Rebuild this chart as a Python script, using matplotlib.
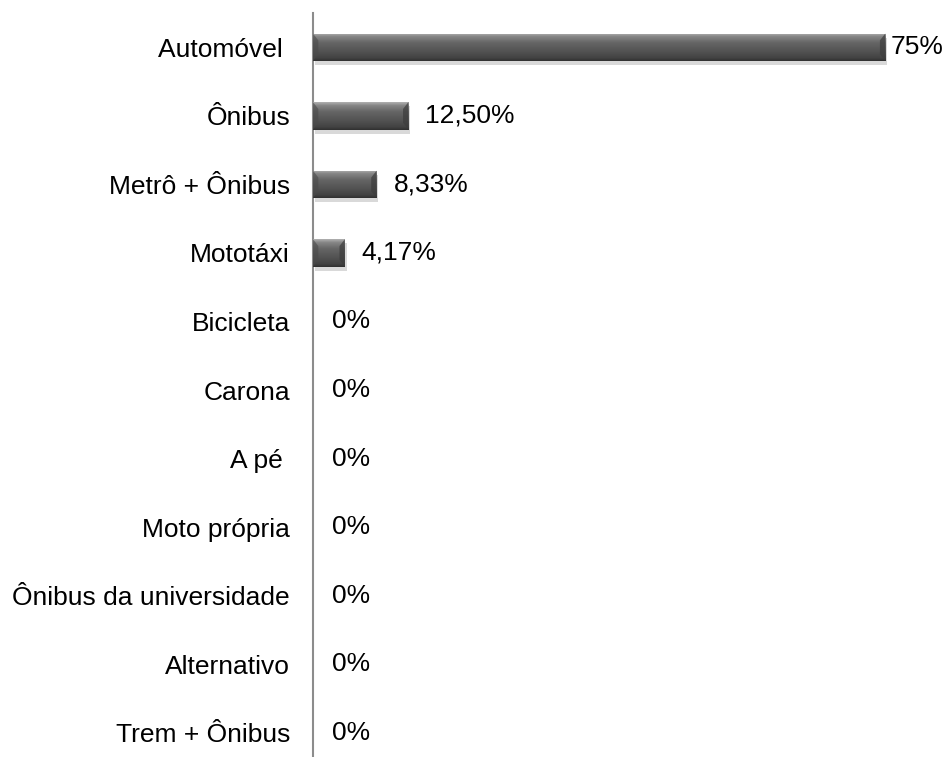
import numpy as np
import matplotlib
matplotlib.use('Agg')
import matplotlib.pyplot as plt
from matplotlib.colors import LinearSegmentedColormap

categories = ['Automóvel ', 'Ônibus', 'Metrô + Ônibus', 'Mototáxi', 'Bicicleta',
              'Carona', 'A pé ', 'Moto própria', 'Ônibus da universidade',
              'Alternativo', 'Trem + Ônibus']
values = [75, 12.5, 8.33, 4.17, 0, 0, 0, 0, 0, 0, 0]
value_labels = ['75%', '12,50%', '8,33%', '4,17%', '0%', '0%', '0%', '0%', '0%', '0%', '0%']

plt.rcParams['font.family'] = ['Liberation Sans', 'DejaVu Sans']

fig = plt.figure(figsize=(9.49, 7.57), dpi=100)
# axes runs a little below the bottom edge, like the original
ax = fig.add_axes([313 / 949, -10 / 757, 1 - 313 / 949, (767 - 13) / 757])

bar_h = 0.4
y = np.arange(len(categories))
bars = ax.barh(y, values, height=bar_h, color='#555555', edgecolor='none', zorder=2)

# bevel-like vertical shading
shade = LinearSegmentedColormap.from_list('bevel', [
    (0.0, '#b0b0b0'), (0.12, '#858585'), (0.35, '#656565'),
    (0.7, '#505050'), (0.9, '#424242'), (1.0, '#303030')])
grad = np.linspace(0, 1, 64).reshape(-1, 1)
for yi, v, b in zip(y, values, bars):
    if v <= 0:
        continue
    # soft shadow
    ax.barh(yi + 0.06, v, height=bar_h, left=0.25, color='#d9d9d9', zorder=1)
    im = ax.imshow(grad, extent=[0, v, yi + bar_h / 2, yi - bar_h / 2],
                   aspect='auto', cmap=shade, zorder=3, interpolation='bilinear')
    im.set_clip_path(b)
    # end facets
    d = 0.7
    ax.fill([0, d, d, 0], [yi - bar_h / 2, yi - bar_h / 2 + 0.1, yi + bar_h / 2 - 0.1, yi + bar_h / 2],
            color='#4a4a4a', alpha=0.6, lw=0, zorder=4)
    ax.fill([v, v - d, v - d, v], [yi - bar_h / 2, yi - bar_h / 2 + 0.1, yi + bar_h / 2 - 0.1, yi + bar_h / 2],
            color='#3c3c3c', alpha=0.7, lw=0, zorder=4)

px = 1 / 7.63  # data units per pixel
for yi, v, lab in zip(y, values, value_labels):
    off = 5 * px if v > 50 else (17 * px if v > 0 else 19 * px)
    ax.text(v + off, yi, lab, va='center', ha='left', fontsize=19, color='black')

ax.set_yticks(y)
ax.set_yticklabels(categories, fontsize=19)
ax.tick_params(axis='y', length=0, pad=16.5)
ax.set_xlim(0, (949 - 313) * px)
ax.set_ylim(len(categories) - 0.5, -0.5)
ax.set_xticks([])
for s in ['top', 'right', 'bottom']:
    ax.spines[s].set_visible(False)
ax.spines['left'].set_color('#8c8c8c')
ax.spines['left'].set_linewidth(1.5)

fig.savefig('out.png', dpi=100)
